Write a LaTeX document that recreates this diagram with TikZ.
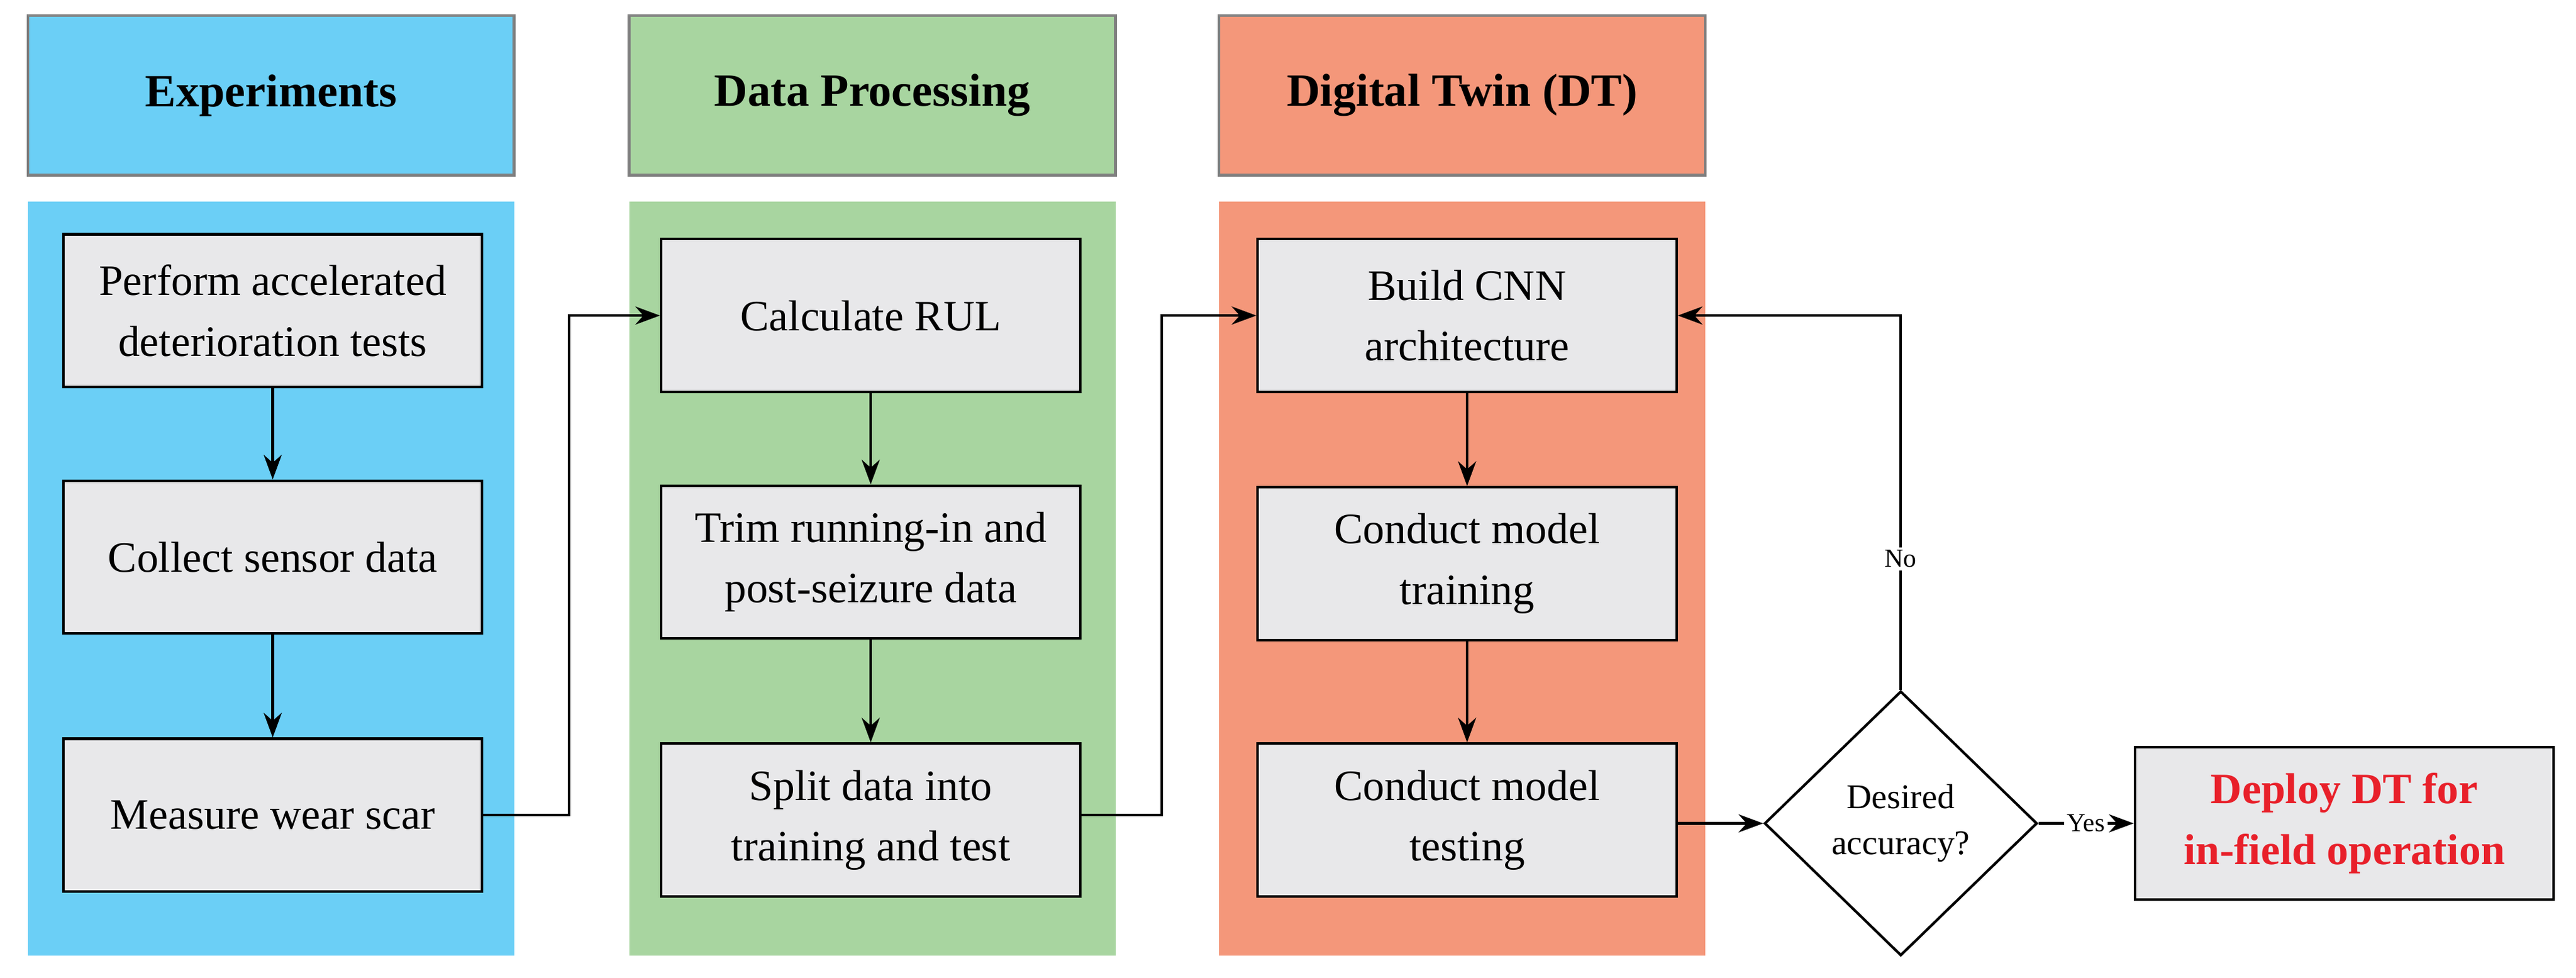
\documentclass[tikz,border=0pt]{standalone}
\usepackage{fontspec}
\setmainfont{Liberation Serif}
\usetikzlibrary{shapes.geometric,arrows.meta}
\definecolor{expblue}{HTML}{6BCFF6}
\definecolor{procgreen}{HTML}{A8D5A0}
\definecolor{twinred}{HTML}{F4977A}
\definecolor{boxgray}{HTML}{E8E8EA}
\definecolor{deployred}{HTML}{E8202A}

\begin{document}
\begin{tikzpicture}[x=0.02cm,y=-0.02cm,line width=.9pt,
  header/.style={draw=gray, line width=1pt, minimum width=5.92cm, minimum height=1.94cm, inner sep=0pt, font=\fontsize{16}{19}\selectfont\bfseries},
  column/.style={minimum width=5.92cm, minimum height=9.18cm, inner sep=0pt},
  task/.style={draw=black, fill=boxgray, minimum width=5.1cm, minimum height=1.86cm, inner sep=0pt, align=center, font=\fontsize{15}{21}\selectfont},
  flow/.style={-{Stealth[length=3mm,width=2.2mm]}},
  tag/.style={font=\fontsize{9}{11}\selectfont, fill=white, inner sep=1pt}]
\useasboundingbox (0,0) rectangle (1568,595);
% Headers
\node[header, fill=expblue] (hexp) at (165,58) {Experiments};
\node[header, fill=procgreen] (hproc) at (531,58) {Data Processing};
\node[header, fill=twinred] (htwin) at (890,58) {Digital Twin (DT)};
% Columns
\node[column, fill=expblue] (cexp) at (165,352) {};
\node[column, fill=procgreen] (cproc) at (531,352) {};
\node[column, fill=twinred] (ctwin) at (890,352) {};
% Experiments
\node[task] (perform) at (166,189) {Perform accelerated\\deterioration tests};
\node[task] (collect) at (166,339) {Collect sensor data};
\node[task] (measure) at (166,496) {Measure wear scar};
% Data processing
\node[task] (rul) at (530,192) {Calculate RUL};
\node[task] (trim) at (530,342) {Trim running-in and\\post-seizure data};
\node[task] (split) at (530,499) {Split data into\\training and test};
% Digital twin
\node[task] (build) at (893,192) {Build CNN\\architecture};
\node[task] (train) at (893,343) {Conduct model\\training};
\node[task] (test) at (893,499) {Conduct model\\testing};
% Decision and deployment
\node[diamond, draw=black, fill=white, minimum width=3.32cm, minimum height=3.22cm, inner sep=0pt, align=center, font=\fontsize{12}{16}\selectfont] (acc) at (1157,501) {Desired\\accuracy?};
\node[task, font=\fontsize{15}{21}\selectfont\bfseries, text=deployred] (deploy) at (1427,501) {Deploy DT for\\in-field operation};
% Connectors
\draw[flow] (perform) -- (collect);
\draw[flow] (collect) -- (measure);
\draw[flow] (rul) -- (trim);
\draw[flow] (trim) -- (split);
\draw[flow] (build) -- (train);
\draw[flow] (train) -- (test);
\draw[flow] (measure.east) -- ++(52,0) |- (rul.west);
\draw[flow] ([yshift=0.06cm]split.east) -- ++(49,0) |- (build.west);
\draw[flow] (test.east |- acc) -- (acc.west);
\draw[flow] (acc.east) -- node[tag] {Yes} (deploy.west);
\draw[flow] (acc.north) -- node[tag, pos=.35] {No} (acc.north |- build) -- (build.east);
\end{tikzpicture}
\end{document}
